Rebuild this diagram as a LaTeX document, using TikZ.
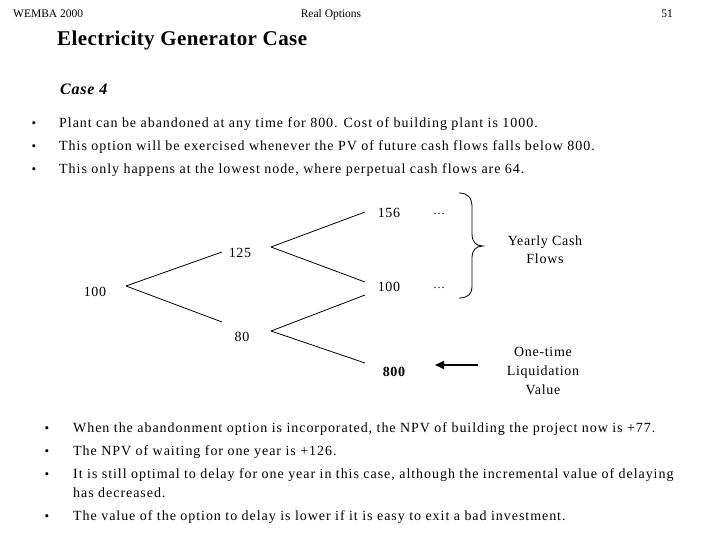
\documentclass[tikz,border=0pt]{standalone}
\usepackage{fontspec}
\setmainfont{Liberation Serif}
\newfontfamily\spaced[LetterSpace=6.8]{Liberation Serif}
\newfontfamily\spacedn[LetterSpace=5]{Liberation Serif}
\newfontfamily\spacedt[LetterSpace=2]{Liberation Serif}
\usetikzlibrary{calc,arrows.meta}
\begin{document}
\begin{tikzpicture}[x=1pt,y=-1pt,
  hdr/.style={font=\fontsize{11.5}{13}\selectfont, inner sep=0pt},
  body/.style={font=\spaced\fontsize{14}{16}\selectfont, inner sep=0pt, anchor=base west},
  bul/.style={font=\fontsize{13}{16}\selectfont, inner sep=0pt, anchor=base},
  num/.style={font=\spacedn\fontsize{14}{16}\selectfont, inner sep=0pt},
  dots/.style={font=\fontsize{12}{14}\selectfont, inner sep=0pt},
  lbl/.style={font=\spacedn\fontsize{14}{18}\selectfont, inner sep=0pt, align=center},
  edge/.style={line width=0.8pt}
]
\useasboundingbox (0,0) rectangle (720,540);
\fill[white] (0,0) rectangle (720,540);

% header
\node[hdr, anchor=base west] (wemba) at (13,18) {WEMBA 2000};
\node[hdr, anchor=base] (ro) at (331,18) {Real Options};
\node[hdr, anchor=base east] (pg) at (673,18) {51};

% title
\node[inner sep=0pt, anchor=base west, font=\spacedt\bfseries\fontsize{21}{24}\selectfont] (title) at (57,46) {Electricity Generator Case};
\node[inner sep=0pt, anchor=base west, font=\spacedn\bfseries\itshape\fontsize{16}{18}\selectfont] (case) at (60,95) {Case 4};

% top bullets
\node[bul] (b1) at (34,128) {•};
\node[body] (t1) at (59,128) {Plant can be abandoned at any time for 800. Cost of building plant is 1000.};
\node[bul] (b2) at (34,151) {•};
\node[body] (t2) at (59,151) {This option will be exercised whenever the PV of future cash flows falls below 800.};
\node[bul] (b3) at (34,174) {•};
\node[body] (t3) at (59,174) {This only happens at the lowest node, where perpetual cash flows are 64.};

% tree
\node[num] (n100) at (95,292) {100};
\node[num] (n125) at (240,253) {125};
\node[num] (n80) at (242,337) {80};
\node[num] (n156) at (389,213) {156};
\node[num] (n100b) at (389,287) {100};
\node[num, font=\spacedn\bfseries\fontsize{14}{16}\selectfont] (n800) at (394,372) {800};
\node[dots] (d1) at (439,214) {…};
\node[dots] (d2) at (439,288) {…};

\draw[edge] ($(n100)+(31,-6)$) -- ($(n125)+(-18,-1)$);
\draw[edge] ($(n100)+(31,-6)$) -- ($(n80)+(-20,-15)$);
\draw[edge] ($(n125)+(31,-6)$) -- ($(n156)+(-24,-1)$);
\draw[edge] ($(n125)+(31,-6)$) -- ($(n100b)+(-24,-5)$);
\draw[edge] ($(n80)+(29,-6)$) -- ($(n100b)+(-24,8)$);
\draw[edge] ($(n80)+(29,-6)$) -- ($(n800)+(-29,-9)$);

% brace
\draw[line width=0.8pt] (459,193) .. controls (468,193) and (472,198) .. (472,207) -- (472,234)
  .. controls (472,242) and (476,246) .. (483,246)
  .. controls (476,246) and (472,250) .. (472,258) -- (472,286)
  .. controls (472,294) and (468,298) .. (459,298);

\node[lbl] (ycf) at (545,250) {Yearly Cash\\Flows};
\node[lbl, font=\spacedn\fontsize{14}{19}\selectfont] (liq) at (543,371) {One-time\\Liquidation\\Value};

\draw[line width=2pt, -{Triangle[length=9pt,width=8pt]}] ($(liq)+(-65,-6)$) -- ($(n800)+(41,-7)$);

% bottom bullets
\node[bul] (c1) at (47,432) {•};
\node[body] (u1) at (73,432) {When the abandonment option is incorporated, the NPV of building the project now is +77.};
\node[bul] (c2) at (47,455) {•};
\node[body] (u2) at (73,455) {The NPV of waiting for one year is +126.};
\node[bul] (c3) at (47,478) {•};
\node[body] (u3) at (73,478) {It is still optimal to delay for one year in this case, although the incremental value of delaying};
\node[body] (u3b) at (73,497) {has decreased.};
\node[bul] (c4) at (47,520) {•};
\node[body] (u4) at (73,520) {The value of the option to delay is lower if it is easy to exit a bad investment.};
\end{tikzpicture}
\end{document}
